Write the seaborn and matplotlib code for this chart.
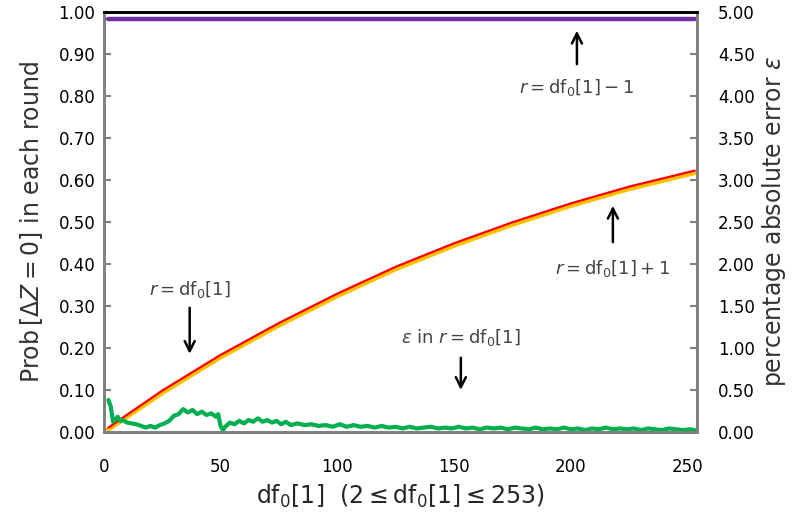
import numpy as np
import pandas as pd
import seaborn as sns
from matplotlib import pyplot as plt

# probability curves (left axis)
prob_x = [2, 25, 50, 75, 100, 125, 150, 175, 200, 225, 253]
prob_r_plus1 = [0.010, 0.098, 0.183, 0.259, 0.329, 0.393, 0.449, 0.499, 0.544, 0.584, 0.622]
prob_r = [0.006, 0.093, 0.178, 0.254, 0.324, 0.388, 0.444, 0.494, 0.539, 0.579, 0.617]
prob_r_minus1_x = [2, 253]
prob_r_minus1 = [0.982, 0.982]

# percentage absolute error (right axis)
eps_x = [2, 3, 4, 5, 6, 7, 8, 10, 12, 14, 16, 18, 20, 22, 24, 26, 28, 30, 32, 34, 36, 38, 40,
         42, 44, 46, 48, 49, 50, 51, 52, 54, 56, 58, 60, 62, 64, 66, 68, 70, 72, 74, 76, 78, 80,
         83, 86, 89, 92, 95, 98, 101, 104, 107, 110, 113, 116, 119, 122, 125, 128, 131, 134,
         137, 140, 143, 146, 149, 152, 155, 158, 161, 164, 167, 170, 173, 176, 179, 182, 185,
         188, 191, 194, 197, 200, 203, 206, 209, 212, 215, 218, 221, 224, 227, 230, 233, 236,
         239, 242, 245, 248, 251, 253]
eps_val = [0.38, 0.30, 0.12, 0.15, 0.18, 0.13, 0.14, 0.11, 0.10, 0.09, 0.07, 0.05, 0.07, 0.05,
           0.08, 0.10, 0.13, 0.19, 0.21, 0.27, 0.23, 0.26, 0.21, 0.24, 0.20, 0.22, 0.18, 0.21,
           0.07, 0.02, 0.06, 0.11, 0.09, 0.13, 0.10, 0.14, 0.12, 0.16, 0.12, 0.14, 0.11, 0.13,
           0.09, 0.12, 0.08, 0.10, 0.08, 0.09, 0.07, 0.08, 0.06, 0.09, 0.06, 0.08, 0.06, 0.07,
           0.05, 0.07, 0.05, 0.06, 0.04, 0.06, 0.04, 0.05, 0.06, 0.04, 0.05, 0.04, 0.06, 0.04,
           0.05, 0.03, 0.05, 0.04, 0.05, 0.03, 0.05, 0.04, 0.03, 0.05, 0.03, 0.04, 0.03, 0.05,
           0.03, 0.04, 0.02, 0.04, 0.03, 0.05, 0.03, 0.04, 0.03, 0.04, 0.02, 0.04, 0.03, 0.02,
           0.04, 0.03, 0.02, 0.03, 0.02]

left_ticks = [0.0, 0.1, 0.2, 0.3, 0.4, 0.5, 0.6, 0.7, 0.8, 0.9, 1.0]
right_ticks = [0.0, 0.5, 1.0, 1.5, 2.0, 2.5, 3.0, 3.5, 4.0, 4.5, 5.0]
x_ticks = [0, 50, 100, 150, 200, 250]

sns.set_style("white")
plt.rcParams['font.family'] = ['DejaVu Sans']
plt.rcParams['mathtext.fontset'] = 'dejavusans'

fig = plt.figure(figsize=(7.92, 5.19), dpi=100)
ax = fig.add_axes([0.131, 0.168, 0.749, 0.809])
ax2 = ax.twinx()

sns.lineplot(x=prob_r_minus1_x, y=prob_r_minus1, ax=ax, color='#7030A0', linewidth=3.2)
sns.lineplot(x=prob_x, y=prob_r, ax=ax, color='#FFC000', linewidth=3.5)
sns.lineplot(x=prob_x, y=prob_r_plus1, ax=ax, color='#FF0000', linewidth=1.6)
sns.lineplot(x=eps_x, y=eps_val, ax=ax2, color='#00B050', linewidth=3.0)

ax.set_xlim(0, 254)
ax.set_ylim(0, 1.0)
ax2.set_ylim(0, 5.0)
ax.set_xticks(x_ticks)
ax.set_yticks(left_ticks)
ax.set_yticklabels([f'{v:.2f}' for v in left_ticks])
ax2.set_yticks(right_ticks)
ax2.set_yticklabels([f'{v:.2f}' for v in right_ticks])

for a in (ax, ax2):
    a.tick_params(direction='in', length=5, width=1.5, color='#808080',
                  labelsize=12, labelcolor='black')
    for side in ('left', 'right', 'bottom'):
        a.spines[side].set_color('#808080')
        a.spines[side].set_linewidth(2)
    a.spines['top'].set_color('black')
    a.spines['top'].set_linewidth(2)
ax.tick_params(axis='x', pad=19)
ax.tick_params(axis='y', pad=6)
ax2.tick_params(axis='y', pad=15)

ax.set_xlabel(r'$\mathsf{df}_0[1]\ \ (2 \leq \mathsf{df}_0[1] \leq 253)$', fontsize=17, labelpad=5)
ax.set_ylabel(r'Prob$\,[\Delta Z = 0]$ in each round', fontsize=17, color='#333333', labelpad=10)
ax2.set_ylabel(r'percentage absolute error $\epsilon$', fontsize=17, color='#333333', labelpad=4)

arrow = dict(arrowstyle='->', color='black', lw=1.8, mutation_scale=18)
ann_color = '#444444'
ax.annotate('', xy=(202.6, 0.962), xytext=(202.6, 0.869), arrowprops=arrow)
ax.text(202.6, 0.821, r'$r = \mathsf{df}_0[1] - 1$', ha='center', va='center', fontsize=13, color=ann_color)
ax.annotate('', xy=(218, 0.545), xytext=(218, 0.445), arrowprops=arrow)
ax.text(218, 0.39, r'$r = \mathsf{df}_0[1] + 1$', ha='center', va='center', fontsize=13, color=ann_color)
ax.annotate('', xy=(36.8, 0.179), xytext=(36.8, 0.302), arrowprops=arrow)
ax.text(36.8, 0.338, r'$r = \mathsf{df}_0[1]$', ha='center', va='center', fontsize=13, color=ann_color)
ax.annotate('', xy=(152.9, 0.093), xytext=(152.9, 0.183), arrowprops=arrow)
ax.text(152.9, 0.224, r'$\epsilon$ in $r = \mathsf{df}_0[1]$', ha='center', va='center', fontsize=13, color=ann_color)

fig.savefig('out.png', dpi=100)
